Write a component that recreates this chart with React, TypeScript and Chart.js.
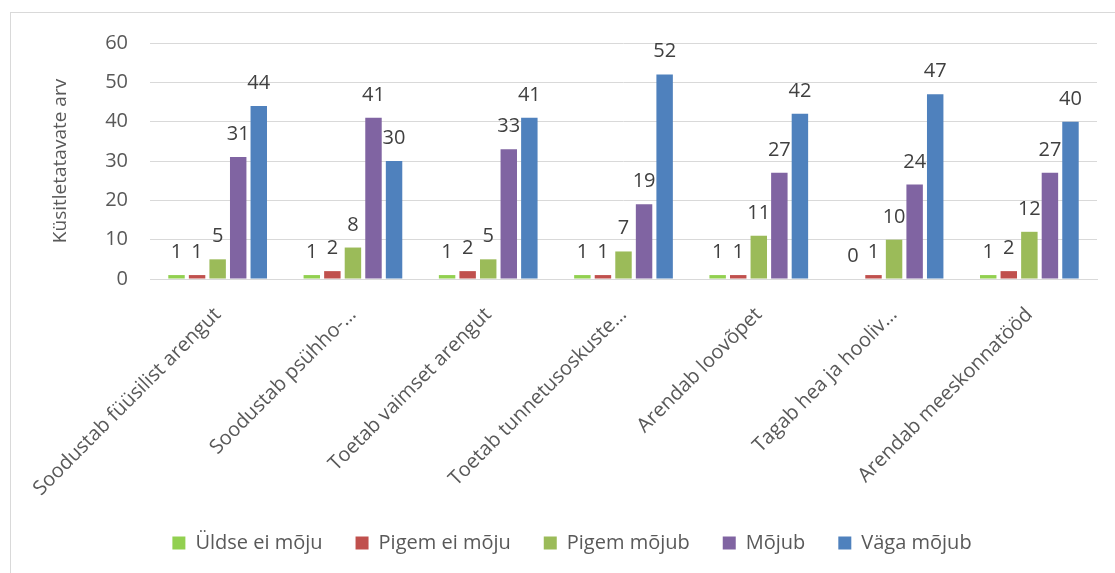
import React, { useEffect, useRef } from "react";
import { Chart, registerables } from "chart.js";

Chart.register(...registerables);

const categories = [
  "Soodustab füüsilist arengut",
  "Soodustab psühho-…",
  "Toetab vaimset arengut",
  "Toetab tunnetusoskuste…",
  "Arendab loovõpet",
  "Tagab hea ja hooliv…",
  "Arendab meeskonnatööd",
];
const seriesNames = ["Üldse ei mõju", "Pigem ei mõju", "Pigem mõjub", "Mõjub", "Väga mõjub"];
const uldseEiMoju = [1, 1, 1, 1, 1, 0, 1];
const pigemEiMoju = [1, 2, 2, 1, 1, 1, 2];
const pigemMojub = [5, 8, 5, 7, 11, 10, 12];
const mojub = [31, 41, 33, 19, 27, 24, 27];
const vagaMojub = [44, 30, 41, 52, 42, 47, 40];
const yTicks = [0, 10, 20, 30, 40, 50, 60];
const colors = ["#92D050", "#C0504D", "#9BBB59", "#8064A2", "#4F81BD"];

const FONT = "'Open Sans', sans-serif";

const dataLabelPlugin = {
  id: "dataLabels",
  afterDatasetsDraw(chart: any) {
    const ctx = chart.ctx;
    ctx.save();
    ctx.font = `20px ${FONT}`;
    ctx.fillStyle = "#404040";
    ctx.textAlign = "center";
    ctx.textBaseline = "alphabetic";
    chart.data.datasets.forEach((ds: any, i: number) => {
      const meta = chart.getDatasetMeta(i);
      meta.data.forEach((bar: any, j: number) => {
        ctx.fillText(String(ds.data[j]), bar.x, bar.y - 17);
      });
    });
    ctx.restore();
  },
};

// Center the legend across the whole canvas rather than within the padded area.
const legendCenterPlugin = {
  id: "legendCenter",
  afterLayout(chart: any) {
    const lg = chart.legend;
    if (!lg) return;
    lg.left = 0;
    lg.right = chart.width;
    lg.width = chart.width;
  },
};

export default function App() {
  const ref = useRef<HTMLCanvasElement | null>(null);
  useEffect(() => {
    if (!ref.current) return;
    const allSeries = [uldseEiMoju, pigemEiMoju, pigemMojub, mojub, vagaMojub];
    const chart = new Chart(ref.current, {
      type: "bar",
      data: {
        labels: categories,
        datasets: allSeries.map((d, i) => ({
          label: seriesNames[i],
          data: d,
          backgroundColor: colors[i],
          borderWidth: 0,
          barPercentage: 0.8,
          categoryPercentage: 0.76,
        })),
      },
      options: {
        animation: false,
        responsive: false,
        maintainAspectRatio: false,
        layout: { padding: { top: 30, right: 36, bottom: 20, left: 0 } },
        plugins: {
          tooltip: { enabled: false },
          legend: {
            position: "bottom",
            labels: {
              font: { family: FONT, size: 20 },
              color: "#595959",
              boxWidth: 13,
              boxHeight: 13,
              padding: 33,
            },
          },
        },
        scales: {
          x: {
            grid: { display: false, drawTicks: false },
            border: { color: "#d9d9d9", width: 1 },
            ticks: {
              font: { family: FONT, size: 20 },
              color: "#595959",
              minRotation: 45,
              maxRotation: 45,
              autoSkip: false,
              padding: 24,
            },
            afterFit(scale: any) {
              scale.height = 221;
              scale.paddingLeft = 0;
              scale.paddingRight = 0;
            },
          },
          y: {
            min: 0,
            max: 60,
            afterBuildTicks(scale: any) {
              scale.ticks = yTicks.map((v) => ({ value: v }));
            },
            grid: { color: "#d9d9d9", drawTicks: false },
            border: { display: false },
            ticks: {
              font: { family: FONT, size: 20 },
              color: "#595959",
              padding: 22,
            },
            title: {
              display: true,
              text: "Küsitletatavate arv",
              font: { family: FONT, size: 19 },
              color: "#595959",
              padding: { top: 38, bottom: 0 },
            },
            afterFit(scale: any) {
              scale.width = 139;
              scale.paddingTop = 0;
              scale.paddingBottom = 0;
            },
          },
        },
      },
      plugins: [dataLabelPlugin, legendCenterPlugin],
    });
    return () => chart.destroy();
  }, []);
  return (
    <div
      style={{
        position: "absolute",
        left: 10,
        top: 12,
        width: 1105,
        height: 561,
        overflow: "hidden",
      }}
    >
      <div
        style={{
          width: 1124,
          height: 572,
          border: "1px solid #d9d9d9",
          boxSizing: "border-box",
        }}
      >
        <canvas ref={ref} width={1122} height={570} style={{ display: "block" }} />
      </div>
    </div>
  );
}
